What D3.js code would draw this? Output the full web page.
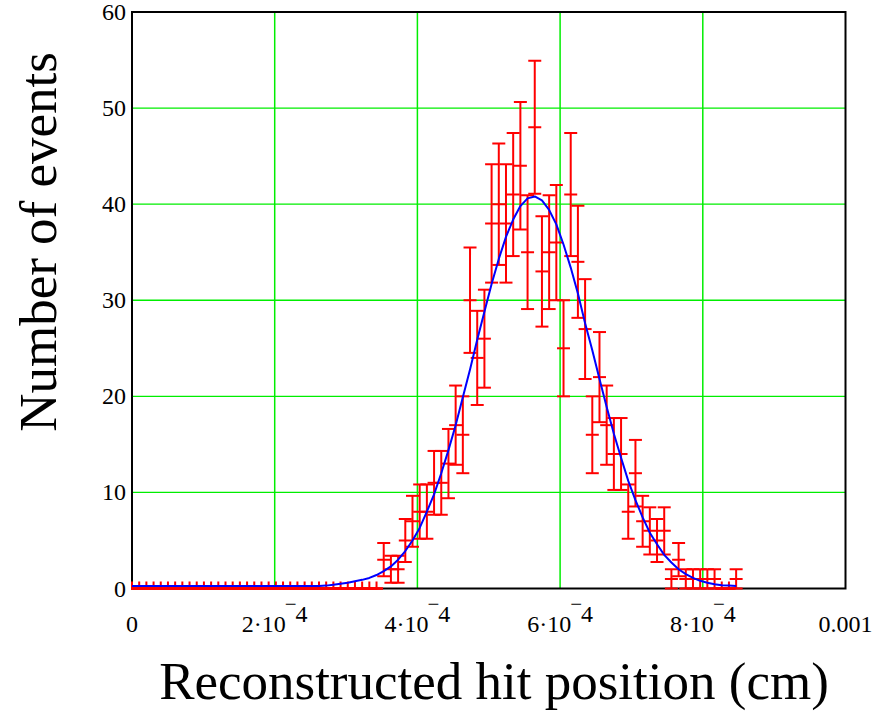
<!DOCTYPE html>
<html>
<head>
<meta charset="utf-8">
<script src="https://cdn.jsdelivr.net/npm/d3@7"></script>
<style>
  body { margin: 0; background: #fff; }
  svg { display: block; }
  text { font-family: "Liberation Serif", "Times New Roman", serif; fill: #000; }
</style>
</head>
<body>
<svg id="chart" width="893" height="711"></svg>
<script>
// Histogram of reconstructed hit positions: bin width (cm) and counts per bin
const binWidth = 1.008e-5;
const counts = [
  0, 0, 0, 0, 0, 0, 0, 0, 0, 0,
  0, 0, 0, 0, 0, 0, 0, 0, 0, 0,
  0, 0, 0, 0, 0, 0, 0, 0, 0, 0,
  0, 0, 0, 0, 0, 3, 2, 2, 5, 7,
  8, 8, 11, 11, 13, 17, 16, 30, 24, 26,
  38, 40, 38, 41, 44, 35, 48, 33, 35, 36,
  25, 41, 34, 27, 16, 22, 17, 14, 14, 8,
  12, 7, 6, 5, 6, 1, 3, 1, 1, 1,
  1, 1, 0, 0, 1
];
// Fitted curve evaluated at each bin
const fitValues = [
  0.25, 0.25, 0.25, 0.25, 0.25, 0.25, 0.25, 0.25, 0.25, 0.25,
  0.25, 0.25, 0.25, 0.25, 0.25, 0.25, 0.25, 0.25, 0.25, 0.25,
  0.25, 0.25, 0.25, 0.25, 0.25, 0.25, 0.25, 0.3, 0.4, 0.5,
  0.6, 0.75, 0.9, 1.1, 1.4, 1.8, 2.3, 3.0, 3.9, 5.0,
  6.3, 8.0, 9.8, 12.0, 14.4, 17.0, 19.9, 22.8, 25.9, 28.8,
  31.7, 34.3, 36.6, 38.4, 39.8, 40.6, 40.8, 40.4, 39.4, 37.9,
  35.8, 33.4, 30.7, 27.6, 24.8, 21.8, 18.9, 16.1, 13.6, 11.2,
  9.2, 7.4, 5.8, 4.6, 3.5, 2.7, 2.0, 1.5, 1.1, 0.8,
  0.6, 0.45, 0.35, 0.3, 0.25
];
// Axis ticks
const xTicks = [0, 2e-4, 4e-4, 6e-4, 8e-4, 0.001];
const xTickMantissa = ["0", "2\u00B710", "4\u00B710", "6\u00B710", "8\u00B710", "0.001"];
const xTickExponent = ["", "4", "4", "4", "4", ""];
const yTicks = [0, 10, 20, 30, 40, 50, 60];
const xTitle = "Reconstructed hit position (cm)";
const yTitle = "Number of events";

const bins = counts.map((n, i) => ({ x: i * binWidth, n: n, fit: fitValues[i] }));

const svg = d3.select("#chart");
svg.append("rect").attr("width", 893).attr("height", 711).attr("fill", "#fff");

const plot = { left: 132, right: 845.5, top: 12, bottom: 588.5 };
const x = d3.scaleLinear().domain([0, 0.001]).range([plot.left, plot.right]);
const y = d3.scaleLinear().domain([0, 60]).range([plot.bottom, plot.top]);

// grid
const grid = svg.append("g").attr("stroke", "#00ee00");
grid.selectAll("line.h").data(yTicks.slice(1, -1)).join("line")
  .attr("stroke-width", 1.3)
  .attr("x1", plot.left).attr("x2", plot.right)
  .attr("y1", d => y(d)).attr("y2", d => y(d));
grid.selectAll("line.v").data(xTicks.slice(1, -1)).join("line")
  .attr("stroke-width", 1.5)
  .attr("y1", plot.top).attr("y2", plot.bottom)
  .attr("x1", d => x(d)).attr("x2", d => x(d));

// frame
svg.append("rect")
  .attr("x", plot.left).attr("y", plot.top)
  .attr("width", plot.right - plot.left).attr("height", plot.bottom - plot.top)
  .attr("fill", "none").attr("stroke", "#000").attr("stroke-width", 2);

// clip for data marks
svg.append("clipPath").attr("id", "plotClip").append("rect")
  .attr("x", plot.left - 1).attr("y", plot.top - 1)
  .attr("width", plot.right - plot.left + 2).attr("height", plot.bottom - plot.top + 4);

const data = svg.append("g").attr("clip-path", "url(#plotClip)");

// error bars: N ± sqrt(N)
const capHalf = 6.5;
const eb = data.append("g").attr("stroke", "#ff0000").attr("stroke-width", 2).attr("fill", "none");
bins.forEach(b => {
  const cx = x(b.x);
  const err = Math.sqrt(b.n);
  const lo = y(b.n - err), hi = y(b.n + err), mid = y(b.n);
  if (b.n === 0) {
    eb.append("line").attr("x1", cx).attr("x2", cx).attr("y1", mid + 1.5).attr("y2", mid - 7);
  } else {
    eb.append("line").attr("x1", cx).attr("x2", cx).attr("y1", lo).attr("y2", hi);
  }
  [lo, mid, hi].forEach(yy => {
    eb.append("line").attr("x1", cx - capHalf).attr("x2", cx + capHalf).attr("y1", yy).attr("y2", yy);
  });
});

// fitted curve
const line = d3.line().x(d => x(d.x)).y(d => y(d.fit));
data.append("path").datum(bins)
  .attr("d", line).attr("fill", "none")
  .attr("stroke", "#0000ff").attr("stroke-width", 2).attr("stroke-linejoin", "round");

// y tick labels
svg.append("g").selectAll("text").data(yTicks).join("text")
  .attr("x", 126).attr("y", d => y(d) + 8)
  .attr("text-anchor", "end").attr("font-size", 24)
  .text(d => d);

// x tick labels with exponent
const xl = svg.append("g").selectAll("text").data(xTicks).join("text")
  .attr("x", d => x(d)).attr("y", 632)
  .attr("text-anchor", "middle").attr("font-size", 24);
xl.each(function (d, i) {
  const t = d3.select(this);
  t.append("tspan").text(xTickMantissa[i]);
  if (xTickExponent[i]) {
    t.append("tspan").attr("dy", -21).attr("dx", -1).attr("font-size", 21).text("\u2212");
    t.append("tspan").attr("dy", 11).attr("dx", -1).text(xTickExponent[i]);
  }
});

// axis titles
svg.append("text")
  .attr("x", 494).attr("y", 699)
  .attr("text-anchor", "middle").attr("font-size", 53)
  .text(xTitle);
svg.append("text")
  .attr("transform", "translate(56,242) rotate(-90)")
  .attr("text-anchor", "middle").attr("font-size", 53)
  .text(yTitle);
</script>
</body>
</html>
